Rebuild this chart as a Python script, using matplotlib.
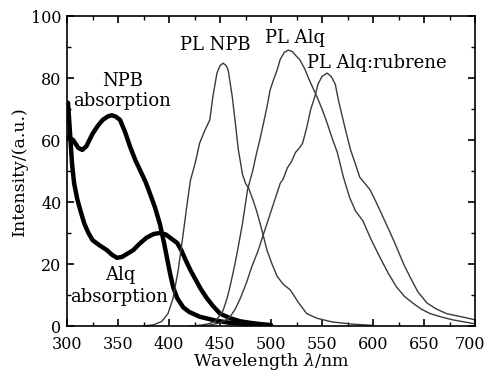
import matplotlib
matplotlib.use("Agg")
import matplotlib.pyplot as plt
import matplotlib.transforms as mtransforms
from matplotlib.ticker import MultipleLocator

plt.rcParams['font.family'] = ['DejaVu Serif']
plt.rcParams['mathtext.fontset'] = 'dejavuserif'

# absorption spectra (thick dotted curves)
npb_abs_x = [301, 306, 311, 315, 319, 325, 330, 335, 340, 344, 348, 352, 357, 362, 367, 372,
             377, 381, 386, 391, 395, 398, 401, 404, 408, 414, 420, 430, 445, 460, 480, 500]
npb_abs_y = [61, 60, 57.5, 56.8, 58, 62, 64.5, 66.5, 67.6, 68, 67.5, 66.5, 62.5, 57.7, 53.5, 50,
             46.5, 43, 38.5, 33, 27, 22, 17, 12.6, 9, 6, 4.5, 3, 1.8, 1, 0.5, 0.2]

alq_abs_x = [301, 303, 305, 307, 310, 313, 317, 321, 325, 332, 339, 344, 349, 354, 360, 365,
             371, 378, 385, 391, 397, 403, 408, 412, 416, 421, 426, 431, 437, 443, 450, 460,
             470, 480, 490, 500]
alq_abs_y = [72, 62, 52, 46, 41, 37.4, 33, 30, 27.7, 26, 24.5, 23, 22, 22.3, 23.5, 24.5,
             26.5, 28.5, 29.7, 30, 29.5, 28, 26.8, 24.5, 21.5, 18, 15, 12, 9, 6.5, 4, 2.5,
             1.5, 1, 0.6, 0.3]

# photoluminescence spectra (thin curves)
pl_npb_x = [375, 385, 393, 399, 404, 409, 414, 418, 421, 426, 430, 435, 440, 443, 447, 450,
            453, 456, 458, 462, 465, 468, 472, 475, 478, 482, 486, 491, 496, 501, 506, 512,
            519, 527, 535, 545, 560, 580, 600]
pl_npb_y = [0, 0.4, 1.5, 4, 9, 18, 30, 40, 47, 53, 59, 63, 66.5, 74, 81.6, 84, 84.8, 84, 82.6,
            74, 65.5, 56.8, 49, 46, 44.5, 41, 37, 31, 24.5, 20, 16, 13.5, 11.6, 7.5, 4, 2.5,
            1.3, 0.6, 0.2]

pl_alq_x = [420, 432, 440, 445, 449, 453, 457, 460, 464, 467, 472, 477, 482, 486, 489, 493,
            496, 499, 502, 506, 509, 513, 517, 521, 525, 528, 533, 538, 545, 550, 555, 560,
            565, 571, 577, 583, 590, 598, 607, 615, 623, 631, 639, 647, 656, 666, 678, 688,
            695, 700]
pl_alq_y = [0, 0.3, 0.8, 1.5, 3, 5, 9, 13, 19, 24, 33, 44, 50, 56, 60, 66, 70.6, 76, 79,
            82.6, 86, 88.3, 89, 88.5, 87, 86, 83, 79, 74, 70, 65.5, 60.5, 56, 48, 41.5, 37,
            34, 28, 22, 17, 12.6, 9.5, 7.4, 5.5, 4, 3, 2, 1.4, 1, 0.7]

pl_rub_x = [430, 440, 450, 456, 460, 465, 470, 476, 481, 487, 492, 497, 501, 505, 509, 512,
            516, 520, 524, 528, 531, 535, 539, 543, 546, 550, 555, 559, 563, 566, 570, 574,
            578, 583, 587, 592, 597, 603, 610, 617, 623, 630, 636, 644, 653, 662, 672, 682,
            692, 700]
pl_rub_y = [0, 0.3, 1, 2, 3, 5.5, 9, 14, 19, 24, 29, 34, 38, 42, 46, 47.5, 51, 53, 56,
            57.5, 59, 64, 70, 74, 78, 80.5, 81.6, 80.5, 78, 73, 67.4, 62, 56.8, 52, 48, 46,
            44, 40, 35, 30, 25.5, 20, 16, 11, 7.4, 5.5, 4, 3.3, 2.6, 2]

fig = plt.figure(figsize=(4.87, 3.73), dpi=100)
ax = fig.add_axes([0.1376, 0.126, 0.8378, 0.831])

ax.plot(npb_abs_x, npb_abs_y, color='black', lw=3.2, solid_capstyle='round', solid_joinstyle='round')
ax.plot(alq_abs_x, alq_abs_y, color='black', lw=3.2, solid_capstyle='round', solid_joinstyle='round')
ax.plot(pl_npb_x, pl_npb_y, color='#3a3a3a', lw=1.0)
ax.plot(pl_alq_x, pl_alq_y, color='#3a3a3a', lw=1.0)
ax.plot(pl_rub_x, pl_rub_y, color='#3a3a3a', lw=1.0)

ax.set_xlim(300, 700)
ax.set_ylim(0, 100)
ax.set_xticks([300, 350, 400, 450, 500, 550, 600, 650, 700])
ax.xaxis.set_minor_locator(MultipleLocator(25))
ax.yaxis.set_major_locator(MultipleLocator(20))
ax.yaxis.set_minor_locator(MultipleLocator(10))
ax.tick_params(which='both', direction='in', top=True, right=True, labelsize=11.5)
ax.tick_params(axis='x', pad=7)
ax.tick_params(axis='y', pad=4)
ax.tick_params(which='major', length=5, width=1.2)
ax.tick_params(which='minor', length=3, width=1.0)
for s in ax.spines.values():
    s.set_linewidth(1.2)

ax.set_xlabel(r'Wavelength $\it{\lambda}$/nm', fontsize=12.5, labelpad=-1)
ax.set_ylabel('Intensity/(a.u.)', fontsize=12.5, labelpad=2)

txt = dict(fontsize=13, ha='center', va='center')
ax.text(355, 79, 'NPB', **txt)
ax.text(354, 72.5, 'absorption', **txt)
ax.text(352, 16.5, 'Alq', **txt)
ax.text(351, 9.5, 'absorption', **txt)
ax.text(445, 90.5, 'PL NPB', **txt)
ax.text(524, 93, 'PL Alq', **txt)
ax.text(604, 85, 'PL Alq:rubrene', **txt)

# the 700 label sits a little left of its tick, as in the original
fig.canvas.draw()
for tick in ax.xaxis.get_major_ticks():
    if tick.get_loc() == 700:
        lab = tick.label1
        lab.set_transform(lab.get_transform() +
                          mtransforms.ScaledTranslation(-5 / 100, 0, fig.dpi_scale_trans))

fig.savefig('out.png', dpi=100)
